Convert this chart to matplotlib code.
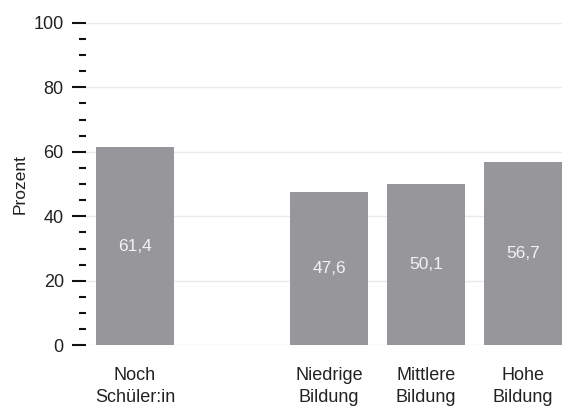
import matplotlib.pyplot as plt
from matplotlib.ticker import MultipleLocator

plt.rcParams['font.family'] = ['Liberation Sans', 'DejaVu Sans']

# Daten
categories = ["Noch\nSchüler:in", "Niedrige\nBildung", "Mittlere\nBildung", "Hohe\nBildung"]
positions = [0, 2, 3, 4]
values = [61.4, 47.6, 50.1, 56.7]
value_labels = ["61,4", "47,6", "50,1", "56,7"]

fig = plt.figure(figsize=(5.62, 4.09), dpi=100)
ax = fig.add_axes([0.153, 0.156, 0.847, 0.788])

bars = ax.bar(positions, values, width=0.8, color="#97979b", zorder=2)
for b, lab in zip(bars, value_labels):
    ax.text(b.get_x() + b.get_width() / 2, b.get_height() / 2, lab,
            ha="center", va="center", color="#f2f2f2", fontsize=12.5)

ax.set_xlim(-0.505, 4.4)
ax.set_ylim(0, 100)
ax.set_xticks(positions)
ax.set_xticklabels(categories, fontsize=13, color="#222222", linespacing=1.35)
ax.tick_params(axis="x", length=0, pad=16)

ax.yaxis.set_major_locator(MultipleLocator(20))
ax.yaxis.set_minor_locator(MultipleLocator(5))
ax.tick_params(axis="y", which="major", length=10, width=1.5, color="#111111",
               labelsize=13, labelcolor="#222222", pad=6)
ax.tick_params(axis="y", which="minor", length=5, width=1.5, color="#111111")
ax.grid(axis="y", color="#e8eaec", linewidth=1, zorder=0)

for s in ax.spines.values():
    s.set_visible(False)

ax.set_ylabel("Prozent", fontsize=12.5, color="#222222", labelpad=4)

fig.savefig("out.png", dpi=100)
